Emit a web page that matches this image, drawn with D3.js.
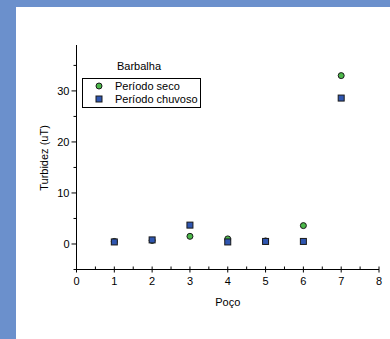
<!DOCTYPE html>
<html><head><meta charset="utf-8">
<script src="https://cdn.jsdelivr.net/npm/d3@7"></script>
<style>body{margin:0;background:#fff}svg{display:block}text{font-family:"Liberation Sans",Arial,sans-serif}</style>
</head><body>
<script>
const wells = [1, 2, 3, 4, 5, 6, 7];
const seco = [0.5, 0.7, 1.5, 1.0, 0.6, 3.6, 33.0];
const chuvoso = [0.4, 0.8, 3.7, 0.4, 0.5, 0.5, 28.6];
const xTicks = [0, 1, 2, 3, 4, 5, 6, 7, 8];
const yTicks = [0, 10, 20, 30];
const seriesNames = ["Período seco", "Período chuvoso"];
const legendTitle = "Barbalha";

const W = 390, H = 339;
const svg = d3.select("body").append("svg").attr("width", W).attr("height", H);
svg.append("rect").attr("width", W).attr("height", H).attr("fill", "#6b90cc");
svg.append("rect").attr("x", 16).attr("y", 7).attr("width", W - 16).attr("height", H - 7).attr("fill", "#fff");

const x = d3.scaleLinear().domain([0, 8]).range([76.5, 379]);
const y = d3.scaleLinear().domain([-5, 39]).range([269.5, 45]);

const g = svg.append("g");
// axis lines
g.append("line").attr("x1", x(0)).attr("x2", x(0)).attr("y1", y(39)).attr("y2", y(-5)).attr("stroke", "#000").attr("stroke-width", 1);
g.append("line").attr("x1", x(0)).attr("x2", x(8)).attr("y1", y(-5)).attr("y2", y(-5)).attr("stroke", "#000").attr("stroke-width", 1);

// x ticks
const xMinor = d3.range(0.5, 8, 1);
g.selectAll(".xt").data(xTicks).join("line").attr("x1", d => x(d)).attr("x2", d => x(d))
  .attr("y1", y(-5) - 3).attr("y2", y(-5) + 3).attr("stroke", "#000");
g.selectAll(".xm").data(xMinor).join("line").attr("x1", d => x(d)).attr("x2", d => x(d))
  .attr("y1", y(-5) - 3).attr("y2", y(-5)).attr("stroke", "#000");
g.selectAll(".xl").data(xTicks).join("text").attr("x", d => x(d)).attr("y", y(-5) + 15)
  .attr("text-anchor", "middle").attr("font-size", 11).text(d => d);

// y ticks
const yMinor = [-5, 5, 15, 25, 35];
g.selectAll(".yt").data(yTicks).join("line").attr("x1", x(0) - 5).attr("x2", x(0))
  .attr("y1", d => y(d)).attr("y2", d => y(d)).attr("stroke", "#000");
g.selectAll(".ym").data(yMinor).join("line").attr("x1", x(0) - 3).attr("x2", x(0))
  .attr("y1", d => y(d)).attr("y2", d => y(d)).attr("stroke", "#000");
g.selectAll(".yl").data(yTicks).join("text").attr("x", x(0) - 7).attr("y", d => y(d) + 4)
  .attr("text-anchor", "end").attr("font-size", 11).text(d => d);

// axis titles
g.append("text").attr("x", x(4)).attr("y", 306).attr("text-anchor", "middle").attr("font-size", 11).text("Poço");
g.append("text").attr("transform", "translate(48,158) rotate(-90)").attr("text-anchor", "middle")
  .attr("font-size", 11).text("Turbidez (uT)");

// data
g.selectAll(".s1").data(wells).join("circle").attr("cx", d => x(d)).attr("cy", (d, i) => y(seco[i]))
  .attr("r", 3).attr("fill", "#4cb84a").attr("stroke", "#1a1a1a").attr("stroke-width", 1);
g.selectAll(".s2").data(wells).join("rect").attr("x", d => x(d) - 3).attr("y", (d, i) => y(chuvoso[i]) - 3)
  .attr("width", 6).attr("height", 6).attr("fill", "#2f56b0").attr("stroke", "#1a1a1a").attr("stroke-width", 1);

// legend
g.append("text").attr("x", 117).attr("y", 70).attr("font-size", 11).text(legendTitle);
g.append("rect").attr("x", 82.5).attr("y", 78.5).attr("width", 118).attr("height", 29)
  .attr("fill", "#fff").attr("stroke", "#000").attr("stroke-width", 1);
g.append("circle").attr("cx", 99).attr("cy", 86).attr("r", 3).attr("fill", "#4cb84a").attr("stroke", "#1a1a1a");
g.append("rect").attr("x", 96).attr("y", 96).attr("width", 6).attr("height", 6).attr("fill", "#2f56b0").attr("stroke", "#1a1a1a");
g.selectAll(".lt").data(seriesNames).join("text").attr("x", 115).attr("y", (d, i) => 90 + i * 13)
  .attr("font-size", 11).text(d => d);
</script>
</body></html>
